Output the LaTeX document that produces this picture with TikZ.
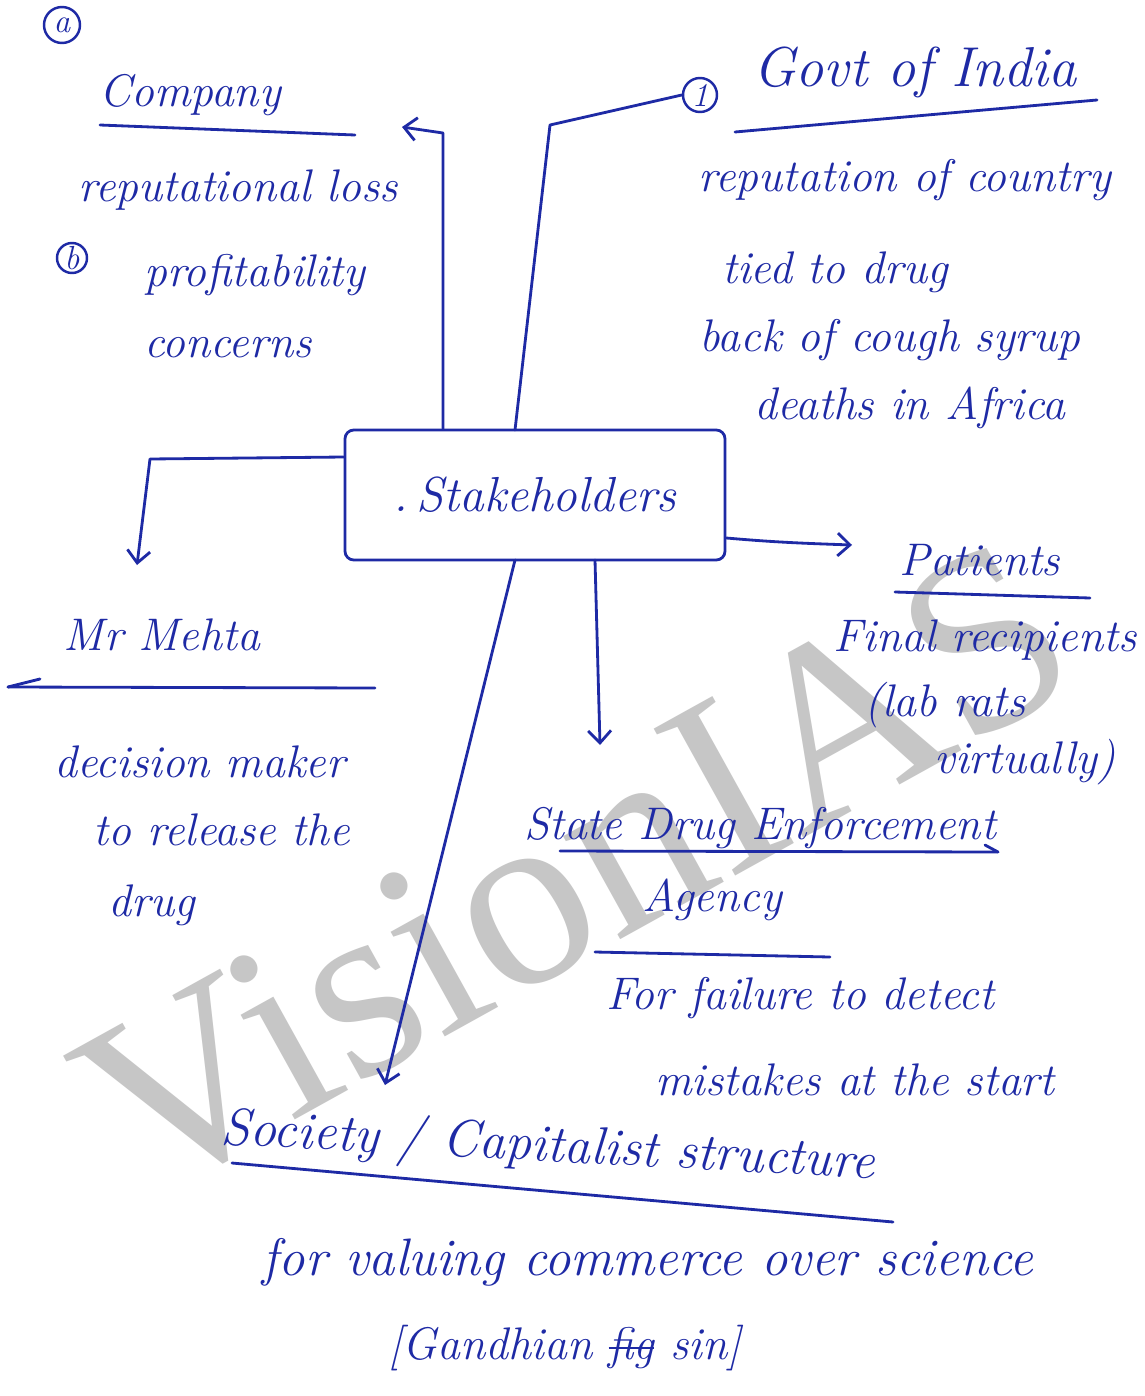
\documentclass[tikz,border=0pt]{standalone}
\usepackage{fontspec}
\usetikzlibrary{arrows.meta}
\newfontfamily\wmfont{Liberation Serif}
\definecolor{ink}{RGB}{30,42,165}
\definecolor{wmgray}{RGB}{198,198,198}
\newcommand\hwf[1]{\fontsize{#1}{#1}\selectfont\itshape}
\newcommand\strk[1]{\setbox0\hbox{#1}\rlap{\raise0.22em\hbox{\vrule width\wd0 height 1.5pt}}\box0\relax}
\tikzset{
  hw/.style={text=ink, font=\hwf{26}, inner sep=0pt, anchor=center},
  circ/.style={draw=ink, circle, line width=1.4pt, text=ink, inner sep=0pt, font=\hwf{19}},
  ln/.style={draw=ink, line width=1.6pt, line cap=round, line join=round},
  arr/.style={ln, -{Straight Barb[length=7pt,width=13pt,line width=1.6pt]}},
  wm/.style={text=wmgray, font=\wmfont\fontsize{146}{146}\selectfont, inner sep=0pt}
}
\begin{document}
\begin{tikzpicture}[x=0.02cm, y=-0.02cm]
\useasboundingbox (0,0) rectangle (1145,1396);
\fill[white] (0,0) rectangle (1145,1396);
% watermark
\node[wm, rotate=29, anchor=base west] (wmark) at (142,1205) {VisionIAS};

% Company
\node[circ, minimum size=36*0.02cm] (ca) at (62,25) {a};
\node[hw] (company) at (190,95) {Company};
\draw[ln] (100,125) -- (355,135);
\node[hw] (rl) at (238,190) {reputational loss};
\node[circ, minimum size=30*0.02cm] (cb) at (72,258) {b};
\node[hw] (prof) at (255,275) {profitability};
\node[hw] (conc) at (228,348) {concerns};

% Govt
\node[circ, minimum size=34*0.02cm] (c1) at (700,95) {1};
\node[hw, font=\hwf{32}] (govt) at (915,72) {Govt of India};
\draw[ln] (735,132) -- (1097,100);
\node[hw] (rep) at (905,180) {reputation of country};
\node[hw] (tied) at (835,272) {tied to drug};
\node[hw] (back) at (890,340) {back of cough syrup};
\node[hw] (deaths) at (910,408) {deaths in Africa};

% central box
\node[draw=ink, line width=1.6pt, rounded corners=5pt, minimum width=380*0.02cm, minimum height=130*0.02cm, text=ink, font=\hwf{28}, inner sep=0pt] (stake) at (535,495) {.\,Stakeholders};

% Mr Mehta
\node[hw] (mehta) at (162,635) {Mr Mehta};
\draw[ln] (8,687) -- (375,688);
\draw[ln] (8,687) -- (40,679);
\node[hw] (dec) at (200,762) {decision maker};
\node[hw] (rel) at (222,830) {to release the};
\node[hw] (drug) at (152,905) {drug};

% Patients
\node[hw] (patients) at (980,560) {Patients};
\draw[ln] (895,592) -- (1090,598);
\node[hw] (final) at (985,640) {Final recipients};
\node[hw] (lab) at (945,705) {(lab rats};
\node[hw] (virt) at (1025,762) {virtually)};

% State Drug Enforcement Agency
\node[hw] (sdea) at (760,828) {State Drug Enforcement};
\draw[ln] (560,851) -- (998,852);
\draw[ln] (998,852) -- (985,845);
\node[hw] (agency) at (712,900) {Agency};
\draw[ln] (595,952) -- (830,957);
\node[hw] (fail) at (800,998) {For failure to detect};
\node[hw] (mist) at (855,1080) {mistakes at the start};

% Society
\node[hw, font=\hwf{30}, rotate=-3] (soc) at (548,1148) {Society / Capitalist structure};
\draw[ln] (232,1163) -- (893,1222);
\node[hw, font=\hwf{30}] (val) at (648,1262) {for valuing commerce over science};
\node[hw] (gand) at (565,1348) {[Gandhian \strk{fig} sin]};

% connectors
\coordinate (kc) at (443,133);
\coordinate (ke) at (402,127);
\draw[arr] (stake.north -| kc) -- (kc) -- (ke);
\coordinate (kg) at (550,125);
\draw[ln] (515,430) -- (kg) -- (c1.west);
\coordinate (km) at (150,459);
\coordinate (kme) at (137,565);
\draw[arr] (stake.west |- 0,457) -- (km) -- (kme);
\coordinate (kp) at (852,545);
\draw[arr] (stake.east |- 0,538) to[out=-5,in=178] (kp);
\coordinate (ks) at (600,745);
\draw[arr] (595,560) -- (ks);
\coordinate (kso) at (385,1085);
\draw[arr] (515,560) -- (kso);
\end{tikzpicture}
\end{document}
